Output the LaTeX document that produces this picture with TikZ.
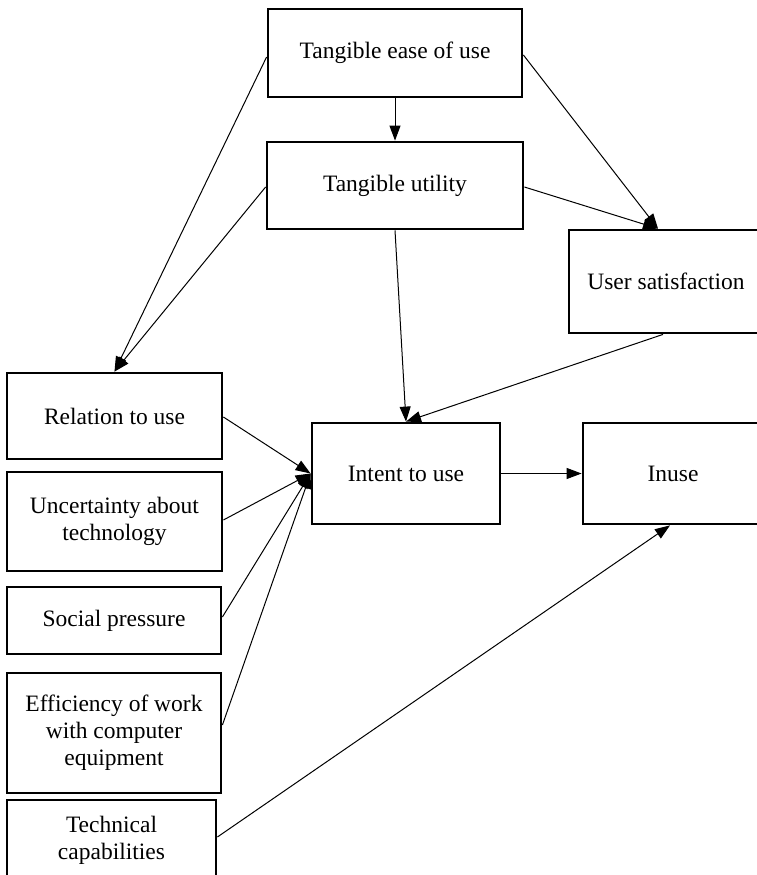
\documentclass[tikz,border=0pt]{standalone}
\usepackage{fontspec}
\setmainfont{Liberation Serif}
\usetikzlibrary{arrows.meta,calc}
\begin{document}
\begin{tikzpicture}[x=1pt,y=-1pt,
  box/.style={draw,line width=2.8pt,rectangle,align=center,inner sep=0pt,
    font=\fontsize{23.5}{27}\selectfont},
  conn/.style={line width=1pt,-{Triangle[length=15pt,width=11pt]}},
  plain/.style={line width=1pt}]
\useasboundingbox[fill=white] (0,0) rectangle (756,875);
\node[box,minimum width=254pt,minimum height=88pt] (tease) at (395,53) {Tangible ease of use};
\node[box,minimum width=256pt,minimum height=87pt] (tutil) at (395,185.5) {Tangible utility};
\node[box,minimum width=194pt,minimum height=103pt] (usat) at (666,281.5) {User satisfaction};
\node[box,minimum width=188pt,minimum height=101pt] (intent) at (406,473.5) {Intent to use};
\node[box,minimum width=180pt,minimum height=101pt] (inuse) at (673,473.5) {Inuse};
\node[box,minimum width=215pt,minimum height=86pt] (relation) at (114.5,416) {Relation to use};
\node[box,minimum width=215pt,minimum height=99pt] (uncert) at (114.5,521.5) {Uncertainty about\\technology};
\node[box,minimum width=214pt,minimum height=67pt] (social) at (114,620.5) {Social pressure};
\node[box,minimum width=214pt,minimum height=120pt] (effic) at (114,733) {Efficiency of work\\with computer\\equipment};
\node[box,minimum width=209pt,minimum height=80pt] (tech) at (111.5,840) {Technical\\capabilities};

\draw[conn] (tease.south) -- (tutil.north);
\draw[conn] ($(tease.west)+(0,4)$) -- (relation.north);
\draw[conn] ($(tutil.west)+(0,1.5)$) -- (relation.north);
\draw[conn] ($(tease.east)+(0,2)$) -- ($(usat.north)+(-8,0)$);
\draw[conn] ($(tutil.east)+(0,1.5)$) -- ($(usat.north)+(-8,0)$);
\draw[conn] (tutil.south) -- (intent.north);
\draw[conn] ($(usat.south)+(-3,0)$) -- (intent.north);
\draw[conn] ($(relation.east)+(0,1)$) -- (intent.west);
\draw[conn] ($(uncert.east)+(0,-1.5)$) -- (intent.west);
\draw[conn] ($(social.east)+(0,-3.5)$) -- (intent.west);
\draw[conn] ($(effic.east)+(0,-8)$) -- (intent.west);
\draw[conn] (intent.east) -- (inuse.west);
\draw[conn] ($(tech.east)+(0,-3)$) -- ($(inuse.south)+(-3,0)$);
\end{tikzpicture}
\end{document}
